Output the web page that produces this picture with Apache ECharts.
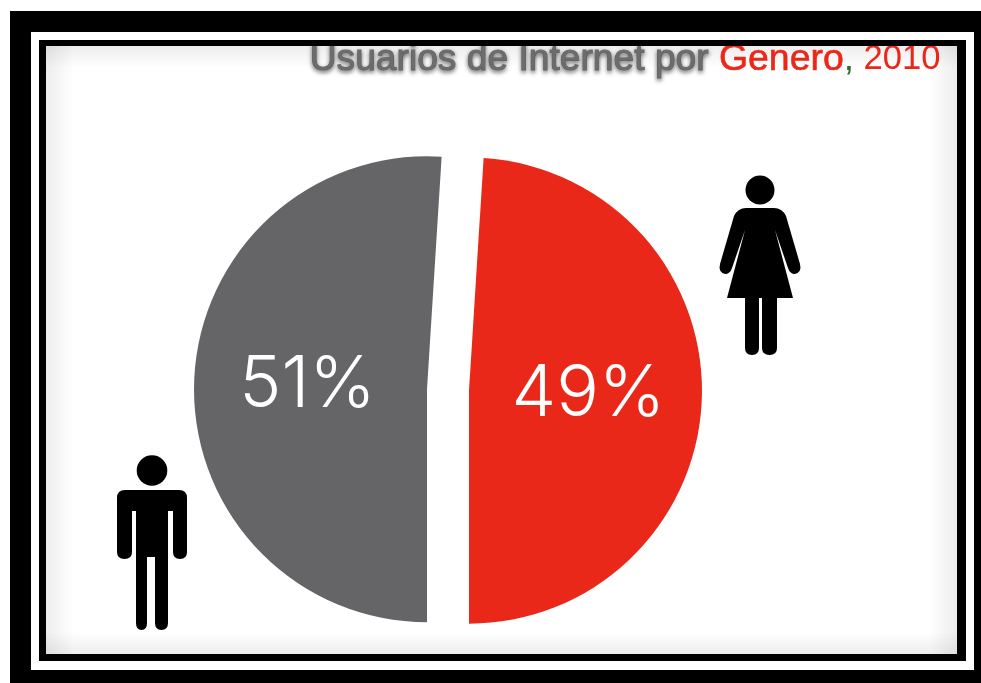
<!DOCTYPE html>
<html>
<head>
<meta charset="utf-8">
<style>html,body{margin:0;padding:0;background:#fff}#c{width:981px;height:683px}</style>
<script src="https://cdn.jsdelivr.net/npm/echarts@6/dist/echarts.min.js"></script>
</head>
<body>
<div id="c"></div>
<script>
const categories = ['Hombres', 'Mujeres'];
const shares = [51, 49];
const sliceColors = ['#656567', '#E9281A'];
const titleParts = ['Usuarios de Internet por ', 'Genero', ',', ' 2010'];

const manPath = 'M125 490H179Q187 490 187 498V552Q187 559 180 559Q173 559 173 552V511H168V623Q168 630 161.5 630Q155 630 155 623V557H147V623Q147 630 141.5 630Q136 630 136 623V511H132V552Q132 559 124.5 559Q117 559 117 552V498Q117 490 125 490Z';
const womanPath = 'M746 208H774Q782 208 786 216L800 264Q802 272 795 274Q790 274 788 268L775 230L793 298H777V348Q777 355 769.5 355Q762 355 762 348V298H759V348Q759 355 752 355Q745 355 745 348V298H727L745 230L732 268Q730 274 725 274Q718 272 720 264L734 216Q738 208 746 208Z';

echarts.graphic.registerShape('manIcon', echarts.graphic.extendPath(manPath));
echarts.graphic.registerShape('womanIcon', echarts.graphic.extendPath(womanPath));

const chart = echarts.init(document.getElementById('c'), null, {renderer: 'canvas'});

function rect(x, y, w, h, fill, z) {
  return {type: 'rect', silent: true, z: z || 0, shape: {x, y, width: w, height: h}, style: {fill}};
}
function fade(x, y, w, h, dx, dy) {
  return rect(x, y, w, h, {
    type: 'linear', x: dx < 0 ? 1 : 0, y: dy < 0 ? 1 : 0,
    x2: dx > 0 ? 1 : 0, y2: dy > 0 ? 1 : 0,
    colorStops: [{offset: 0, color: 'rgba(0,0,0,0.07)'}, {offset: 1, color: 'rgba(0,0,0,0)'}]
  }, 1);
}

chart.setOption({
  animation: false,
  backgroundColor: '#ffffff',
  title: {
    right: 40, top: 41, padding: 0, z: 6,
    text: '{a|' + titleParts[0] + '}{b|' + titleParts[1] + '}{c|' + titleParts[2] + '}{d|' + titleParts[3] + '}',
    textStyle: {
      fontWeight: 'normal',
      rich: {
        a: {fontFamily: 'Liberation Sans', fontWeight: 'normal', fontSize: 37.2, color: '#6c6c6c', textBorderColor: '#6c6c6c', textBorderWidth: 1, textShadowColor: 'rgba(60,60,60,0.7)', textShadowBlur: 4, textShadowOffsetY: 2},
        b: {fontFamily: 'Liberation Sans', fontWeight: 'normal', fontSize: 37.4, color: '#E9281A', textBorderColor: '#E9281A', textBorderWidth: 0.6},
        c: {fontFamily: 'Liberation Sans', fontWeight: 'normal', fontSize: 37, color: '#2f6b2a'},
        d: {fontFamily: 'Liberation Sans', fontWeight: 'normal', fontSize: 34.6, color: '#E9281A'}
      }
    }
  },
  graphic: [
    rect(10, 11, 971, 672, '#000000', 0),
    rect(31, 32, 943, 638, '#ffffff', 0),
    rect(39, 40, 927, 621, '#000000', 0),
    rect(46, 46, 911, 608, '#ffffff', 0),
    fade(46, 46, 28, 608, 1, 0),
    fade(929, 46, 28, 608, -1, 0),
    fade(46, 46, 911, 22, 0, 1),
    fade(46, 632, 911, 22, 0, -1),
    rect(39, 40, 927, 6, '#000000', 20),
    {type: 'circle', silent: true, z: 3, shape: {cx: 152, cy: 470.5, r: 15.3}, style: {fill: '#000'}},
    {type: 'manIcon', silent: true, z: 3, style: {fill: '#000'}},
    {type: 'circle', silent: true, z: 3, shape: {cx: 760, cy: 190, r: 14.5}, style: {fill: '#000'}},
    {type: 'womanIcon', silent: true, z: 3, style: {fill: '#000'}}
  ],
  series: [{
    type: 'pie',
    center: [448, 390],
    radius: [0, 233],
    startAngle: -90,
    clockwise: true,
    selectedMode: 'multiple',
    selectedOffset: 21,
    silent: true,
    labelLine: {show: false},
    label: {
      show: true, position: 'inner', formatter: '{c}%', offset: [2, 3],
      color: '#ffffff', fontFamily: 'Inter', fontWeight: 300, fontSize: 71
    },
    data: categories.map((name, i) => ({
      name, value: shares[i], selected: true,
      itemStyle: {color: sliceColors[i]}
    }))
  }]
});
</script>
</body>
</html>
